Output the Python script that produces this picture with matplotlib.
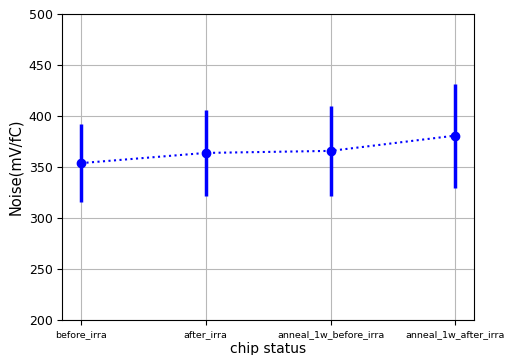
import matplotlib
matplotlib.use("Agg")
import matplotlib.pyplot as plt

statuses = ["before_irra", "after_irra", "anneal_1w_before_irra", "anneal_1w_after_irra"]
noise = [354, 364, 366, 381]
noise_err = [38, 42, 44, 51]

fig, ax = plt.subplots(figsize=(5.06, 3.55), dpi=100)
x = list(range(len(statuses)))
ax.errorbar(x, noise, yerr=noise_err, fmt="o:", color="blue", ecolor="blue",
            elinewidth=2.5, markersize=6, linewidth=1.5, capsize=0)
ax.set_xticks(x)
ax.set_xticklabels(statuses, fontsize=6.8)
ax.set_ylim(200, 500)
ax.tick_params(axis="y", labelsize=9)
ax.set_xlabel("chip status", fontsize=10, labelpad=2)
ax.set_ylabel("Noise(mV/fC)", fontsize=10.5)
ax.grid(True, color="#b8b8b8", linewidth=0.8)
ax.set_axisbelow(True)
fig.subplots_adjust(left=0.123, right=0.937, top=0.96, bottom=0.098)
fig.savefig("out.png", dpi=100)
